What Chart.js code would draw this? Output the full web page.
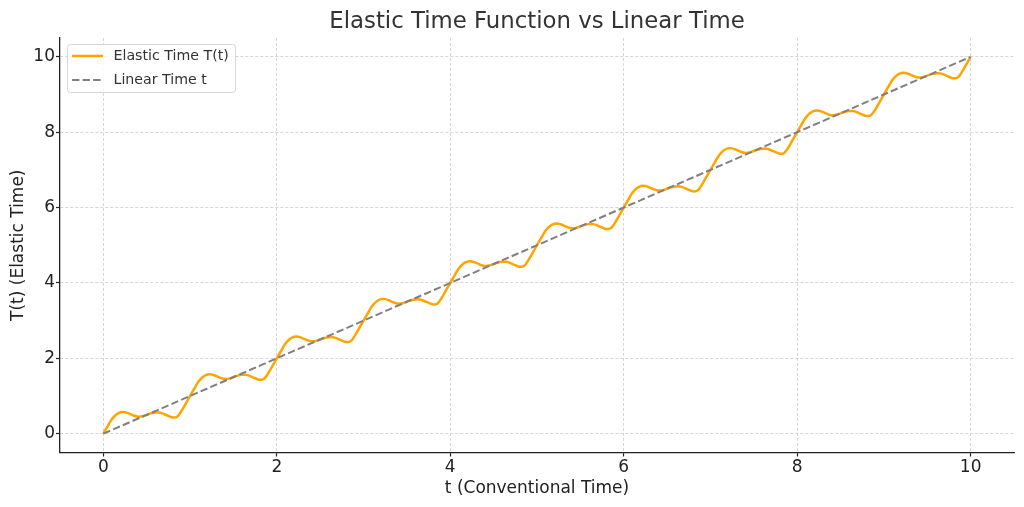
<!DOCTYPE html>
<html>
<head>
<meta charset="utf-8">
<title>Elastic Time Function vs Linear Time</title>
<script src="https://cdn.jsdelivr.net/npm/chart.js@4.4.1/dist/chart.umd.min.js"></script>
<style>
  html, body { margin: 0; padding: 0; background: #fff; }
  #wrap { width: 1024px; height: 507px; }
</style>
</head>
<body>
<div id="wrap"><canvas id="chart_c" width="1024" height="507"></canvas></div>
<script>
// t values (conventional time), step 0.05
const tValues = [
  0, 0.05, 0.1, 0.15, 0.2, 0.25, 0.3, 0.35, 0.4, 0.45, 0.5, 0.55, 0.6, 0.65, 0.7, 0.75, 0.8, 0.85, 0.9, 0.95,
  1, 1.05, 1.1, 1.15, 1.2, 1.25, 1.3, 1.35, 1.4, 1.45, 1.5, 1.55, 1.6, 1.65, 1.7, 1.75, 1.8, 1.85, 1.9, 1.95,
  2, 2.05, 2.1, 2.15, 2.2, 2.25, 2.3, 2.35, 2.4, 2.45, 2.5, 2.55, 2.6, 2.65, 2.7, 2.75, 2.8, 2.85, 2.9, 2.95,
  3, 3.05, 3.1, 3.15, 3.2, 3.25, 3.3, 3.35, 3.4, 3.45, 3.5, 3.55, 3.6, 3.65, 3.7, 3.75, 3.8, 3.85, 3.9, 3.95,
  4, 4.05, 4.1, 4.15, 4.2, 4.25, 4.3, 4.35, 4.4, 4.45, 4.5, 4.55, 4.6, 4.65, 4.7, 4.75, 4.8, 4.85, 4.9, 4.95,
  5, 5.05, 5.1, 5.15, 5.2, 5.25, 5.3, 5.35, 5.4, 5.45, 5.5, 5.55, 5.6, 5.65, 5.7, 5.75, 5.8, 5.85, 5.9, 5.95,
  6, 6.05, 6.1, 6.15, 6.2, 6.25, 6.3, 6.35, 6.4, 6.45, 6.5, 6.55, 6.6, 6.65, 6.7, 6.75, 6.8, 6.85, 6.9, 6.95,
  7, 7.05, 7.1, 7.15, 7.2, 7.25, 7.3, 7.35, 7.4, 7.45, 7.5, 7.55, 7.6, 7.65, 7.7, 7.75, 7.8, 7.85, 7.9, 7.95,
  8, 8.05, 8.1, 8.15, 8.2, 8.25, 8.3, 8.35, 8.4, 8.45, 8.5, 8.55, 8.6, 8.65, 8.7, 8.75, 8.8, 8.85, 8.9, 8.95,
  9, 9.05, 9.1, 9.15, 9.2, 9.25, 9.3, 9.35, 9.4, 9.45, 9.5, 9.55, 9.6, 9.65, 9.7, 9.75, 9.8, 9.85, 9.9, 9.95,
  10
]

// elastic time T(t)
const elasticValues = [
  0.00, 0.20, 0.39, 0.51, 0.57, 0.57, 0.53, 0.48, 0.45, 0.46, 0.50, 0.54, 0.56, 0.56, 0.52, 0.47, 0.43, 0.45, 0.60, 0.80,
  1.00, 1.20, 1.39, 1.51, 1.57, 1.57, 1.53, 1.48, 1.45, 1.46, 1.50, 1.54, 1.56, 1.56, 1.52, 1.47, 1.43, 1.45, 1.60, 1.80,
  2.00, 2.20, 2.39, 2.51, 2.57, 2.57, 2.53, 2.48, 2.45, 2.46, 2.50, 2.54, 2.56, 2.56, 2.52, 2.47, 2.43, 2.45, 2.60, 2.80,
  3.00, 3.20, 3.39, 3.51, 3.57, 3.57, 3.53, 3.48, 3.45, 3.46, 3.50, 3.54, 3.56, 3.56, 3.52, 3.47, 3.43, 3.45, 3.60, 3.80,
  4.00, 4.20, 4.39, 4.51, 4.57, 4.57, 4.53, 4.48, 4.45, 4.46, 4.50, 4.54, 4.56, 4.56, 4.52, 4.47, 4.43, 4.45, 4.60, 4.80,
  5.00, 5.20, 5.39, 5.51, 5.57, 5.57, 5.53, 5.48, 5.45, 5.46, 5.50, 5.54, 5.56, 5.56, 5.52, 5.47, 5.43, 5.45, 5.60, 5.80,
  6.00, 6.20, 6.39, 6.51, 6.57, 6.57, 6.53, 6.48, 6.45, 6.46, 6.50, 6.54, 6.56, 6.56, 6.52, 6.47, 6.43, 6.45, 6.60, 6.80,
  7.00, 7.20, 7.39, 7.51, 7.57, 7.57, 7.53, 7.48, 7.45, 7.46, 7.50, 7.54, 7.56, 7.56, 7.52, 7.47, 7.43, 7.45, 7.60, 7.80,
  8.00, 8.20, 8.39, 8.51, 8.57, 8.57, 8.53, 8.48, 8.45, 8.46, 8.50, 8.54, 8.56, 8.56, 8.52, 8.47, 8.43, 8.45, 8.60, 8.80,
  9.00, 9.20, 9.39, 9.51, 9.57, 9.57, 9.53, 9.48, 9.45, 9.46, 9.50, 9.54, 9.56, 9.56, 9.52, 9.47, 9.43, 9.45, 9.60, 9.80,
  10.00
]

// linear time t (end points of the straight line)
const linearT = [0, 10]
const linearValues = [0, 10]

const xTicks = [0, 2, 4, 6, 8, 10]
const yTicks = [0, 2, 4, 6, 8, 10]

const legendItems = [
  { text: 'Elastic Time T(t)', color: '#FFA500', width: 2.5, dash: [] },
  { text: 'Linear Time t', color: '#808080', width: 2, dash: [7.4, 3.2] }
]

Chart.defaults.font.family = "'DejaVu Sans', sans-serif"

// legend box drawn inside the plot, upper left
const boxLegend = {
  id: 'boxLegend',
  afterDatasetsDraw: (chart) => {
    const ctx = chart.ctx
    const area = chart.chartArea
    const x0 = area.left + 7.5
    const y0 = area.top + 6.5
    const w = 168
    const h = 48
    ctx.save()
    ctx.beginPath()
    ctx.roundRect(x0, y0, w, h, 3)
    ctx.fillStyle = 'rgba(255,255,255,0.85)'
    ctx.fill()
    ctx.lineWidth = 1
    ctx.strokeStyle = '#d6d6d6'
    ctx.stroke()
    legendItems.map((item, i) => {
      const cy = y0 + 11.5 + i * 24
      ctx.beginPath()
      ctx.setLineDash(item.dash)
      ctx.lineWidth = item.width
      ctx.strokeStyle = item.color
      ctx.moveTo(x0 + 4.5, cy)
      ctx.lineTo(x0 + 35.5, cy)
      ctx.stroke()
      ctx.setLineDash([])
      ctx.fillStyle = '#333'
      ctx.font = "14.2px 'DejaVu Sans', sans-serif"
      ctx.textBaseline = 'middle'
      ctx.textAlign = 'left'
      ctx.fillText(item.text, x0 + 46, cy)
    })
    ctx.restore()
  }
}

const axisStyle = (ticks, fit, titleText, titlePad) => ({
  type: 'linear',
  min: -0.5,
  max: 10.5,
  afterBuildTicks: (s) => { s.ticks = ticks.map(v => ({ value: v })) },
  afterFit: fit,
  grid: {
    color: '#cccccc',
    lineWidth: 0.8,
    drawTicks: true,
    tickLength: 4,
    tickColor: '#222',
    tickWidth: 1.2
  },
  border: { display: true, color: '#222', width: 1.3, dash: [3, 2] },
  ticks: { color: '#222', font: { size: 17 }, padding: 1, maxRotation: 0 },
  title: { display: true, text: titleText, color: '#222', font: { size: 17 }, padding: titlePad }
})

new Chart(
  document.getElementById('chart_c'),
  {
    type: 'line',
    data: {
      labels: tValues,
      datasets: [
        {
          label: 'Linear Time t',
          data: linearT.map((t, i) => ({ x: t, y: linearValues[i] })),
          borderColor: '#808080',
          borderWidth: 2,
          borderDash: [7.4, 3.2],
          pointRadius: 0,
          fill: false,
          order: 0
        },
        {
          label: 'Elastic Time T(t)',
          data: elasticValues,
          borderColor: '#FFA500',
          borderWidth: 2.5,
          pointRadius: 0,
          tension: 0.4,
          fill: false,
          order: 1
        }
      ]
    },
    options: {
      responsive: false,
      animation: false,
      devicePixelRatio: 1,
      layout: { padding: { left: 0, right: 10, top: 0, bottom: 0 } },
      plugins: {
        legend: { display: false },
        tooltip: { enabled: false },
        title: {
          display: true,
          text: 'Elastic Time Function vs Linear Time',
          color: '#333',
          fullSize: false,
          font: { size: 22.8, weight: 'normal' },
          padding: { top: 8, bottom: 2.6 }
        }
      },
      scales: {
        x: axisStyle(xTicks, (s) => { s.height = 54.5 }, 't (Conventional Time)', { top: 0, bottom: 8 }),
        y: axisStyle(yTicks, (s) => { s.width = 60 }, 'T(t) (Elastic Time)', { top: 8, bottom: 0 })
      }
    },
    plugins: [boxLegend]
  }
)
</script>
</body>
</html>
